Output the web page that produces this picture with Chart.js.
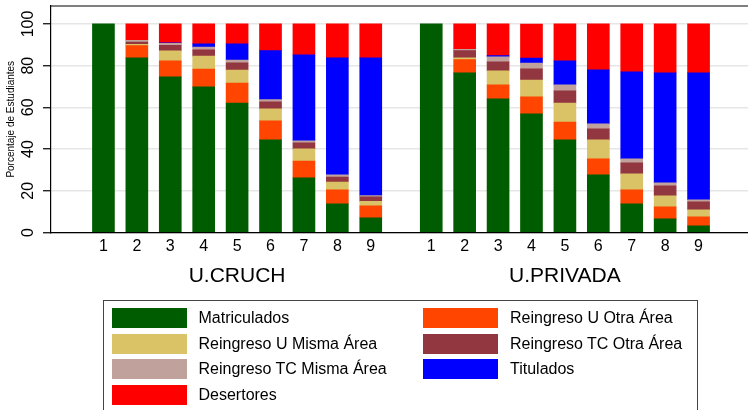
<!DOCTYPE html>
<html>
<head>
<meta charset="utf-8">
<script src="https://cdn.jsdelivr.net/npm/chart.js@4"></script>
<style>
  html, body { margin: 0; padding: 0; background: #fff; }
  #wrap { position: relative; width: 748px; height: 410px; overflow: hidden; font-family: "Liberation Sans", Arial, sans-serif; }
  #chart { position: absolute; left: 0; top: 0; }
  #legend { position: absolute; left: 103px; top: 300px; width: 595px; height: 130px; border: 1px solid #444; box-sizing: border-box; }
  .item { position: absolute; display: flex; align-items: center; font-size: 16px; color: #000; white-space: nowrap; height: 20px; }
  .sw { width: 75px; height: 20px; margin-right: 12px; }
</style>
</head>
<body>
<div id="wrap">
  <canvas id="chart" width="748" height="410"></canvas>
  <div id="legend"></div>
</div>
<script>
// groups and semesters on the x axis
const groups = ['U.CRUCH', 'U.PRIVADA'];
const semesters = ['1', '2', '3', '4', '5', '6', '7', '8', '9'];

// percentages, U.CRUCH 1-9 then U.PRIVADA 1-9
const matriculados = [100, 83.7, 74.6, 69.8, 62.1, 44.4, 26.2, 13.7, 7.0, 100, 76.5, 64.1, 56.9, 44.4, 27.6, 13.7, 6.5, 3.2];
const reingUOtra   = [0, 5.9, 7.7, 8.6, 9.6, 9.1, 8.1, 6.7, 5.8, 0, 6.4, 6.7, 8.1, 8.6, 7.7, 6.7, 5.8, 4.3];
const reingUMisma  = [0, 0.6, 4.8, 6.2, 6.2, 5.8, 5.8, 3.8, 2.2, 0, 0.8, 6.7, 8.1, 9.1, 9.1, 7.7, 5.3, 3.4];
const reingTCOtra  = [0, 1.1, 2.6, 3.0, 3.4, 3.4, 2.9, 2.4, 2.1, 0, 3.5, 4.3, 5.4, 5.8, 5.3, 5.3, 4.8, 3.8];
const reingTCMisma = [0, 0.8, 1.0, 1.3, 1.4, 1.0, 1.0, 1.0, 0.6, 0, 0.6, 2.4, 2.7, 2.9, 2.4, 1.9, 1.4, 1.0];
const titulados    = [0, 0, 0.3, 1.6, 7.8, 23.5, 41.2, 56.1, 66.0, 0, 0, 0.6, 2.4, 11.5, 25.9, 41.7, 52.7, 60.9];
const desertores   = [0, 7.9, 9.0, 9.5, 9.5, 12.8, 14.8, 16.3, 16.3, 0, 12.2, 15.2, 16.3, 17.7, 22.0, 23.0, 23.5, 23.4];

const yTicks = [0, 20, 40, 60, 80, 100];

// extra space between the two groups (in bar slots)
const groupGap = 0.81;
const nSem = semesters.length;
const xPos = (k) => Math.floor(k / nSem) * (nSem + groupGap) + (k % nSem) + 1;

const series = [
    { label: 'Matriculados', data: matriculados, color: '#005c00' },
    { label: 'Reingreso U Otra Área', data: reingUOtra, color: '#ff4500' },
    { label: 'Reingreso U Misma Área', data: reingUMisma, color: '#d9c366' },
    { label: 'Reingreso TC Otra Área', data: reingTCOtra, color: '#923640' },
    { label: 'Reingreso TC Misma Área', data: reingTCMisma, color: '#c0a19b' },
    { label: 'Titulados', data: titulados, color: '#0000ff' },
    { label: 'Desertores', data: desertores, color: '#ff0000' }
];

// empty segments are left out so they leave no hairline
const datasets = series.map(s => ({
    label: s.label,
    data: s.data.map((v, k) => ({ x: xPos(k), y: v === 0 ? null : v })),
    backgroundColor: s.color,
    borderWidth: 0,
    barThickness: 22
}));

// top frame line + group names under the axis
const extras = {
    id: 'extras',
    afterDraw(chart) {
        const ctx = chart.ctx;
        const area = chart.chartArea;
        const xs = chart.scales.x;
        ctx.save();
        ctx.strokeStyle = '#000';
        ctx.lineWidth = 1.2;
        ctx.beginPath();
        ctx.moveTo(area.left, area.top);
        ctx.lineTo(chart.width, area.top);
        ctx.stroke();

        ctx.fillStyle = '#000';
        ctx.font = '21px "Liberation Sans", Arial, sans-serif';
        ctx.textAlign = 'center';
        ctx.textBaseline = 'middle';
        groups.forEach((g, gi) => {
            const first = xPos(gi * nSem);
            const last = xPos(gi * nSem + nSem - 1);
            ctx.fillText(g, xs.getPixelForValue((first + last) / 2), 276);
        });
        ctx.restore();
    }
};

const chart = new Chart(document.getElementById('chart'), {
    type: 'bar',
    data: { datasets },
    options: {
        responsive: false,
        animation: false,
        layout: { padding: { top: 6, right: 0, bottom: 117.5, left: 0 } },
        plugins: { legend: { display: false }, tooltip: { enabled: false } },
        scales: {
            x: {
                type: 'linear',
                stacked: true,
                min: 0.01,
                max: 19.71,
                afterFit: (scale) => {
                    scale.height = 60;
                    scale.paddingLeft = 0;
                    scale.paddingRight = 0;
                },
                afterBuildTicks: (scale) => {
                    scale.ticks = matriculados.map((v, k) => ({ value: xPos(k) }));
                },
                grid: { display: false, drawTicks: false },
                border: { display: true, color: '#000', width: 1.2 },
                ticks: {
                    autoSkip: false,
                    maxRotation: 0,
                    padding: 4,
                    color: '#000',
                    font: { family: '"Liberation Sans", Arial, sans-serif', size: 16 },
                    callback: (v, i) => semesters[i % nSem]
                }
            },
            y: {
                stacked: true,
                min: 0,
                max: 108.6,
                afterFit: (scale) => {
                    scale.width = 51;
                    scale.paddingTop = 0;
                    scale.paddingBottom = 0;
                },
                afterBuildTicks: (scale) => {
                    scale.ticks = yTicks.map(v => ({ value: v }));
                },
                grid: { color: '#e6e6e6', lineWidth: 1.5, tickColor: '#000', tickWidth: 1.2, tickLength: 8 },
                border: { display: true, color: '#000', width: 1.2 },
                ticks: {
                    minRotation: 90,
                    maxRotation: 90,
                    crossAlign: 'center',
                    padding: 1,
                    color: '#000',
                    font: { family: '"Liberation Sans", Arial, sans-serif', size: 16 }
                },
                title: {
                    display: true,
                    text: 'Porcentaje de Estudiantes',
                    color: '#000',
                    padding: { top: 5, bottom: 0 },
                    font: { family: '"Liberation Sans", Arial, sans-serif', size: 10 }
                }
            }
        }
    },
    plugins: [extras]
});

// html legend, two columns, built from the chart datasets
const legend = document.getElementById('legend');
chart.data.datasets.forEach((ds, i) => {
    const item = document.createElement('div');
    item.className = 'item';
    item.style.left = (7.5 + (i % 2) * 311.5) + 'px';
    item.style.top = (7 + Math.floor(i / 2) * 25.7) + 'px';
    item.innerHTML = `<span class="sw" style="background:${ds.backgroundColor}"></span><span>${ds.label}</span>`;
    legend.appendChild(item);
});
</script>
</body>
</html>
